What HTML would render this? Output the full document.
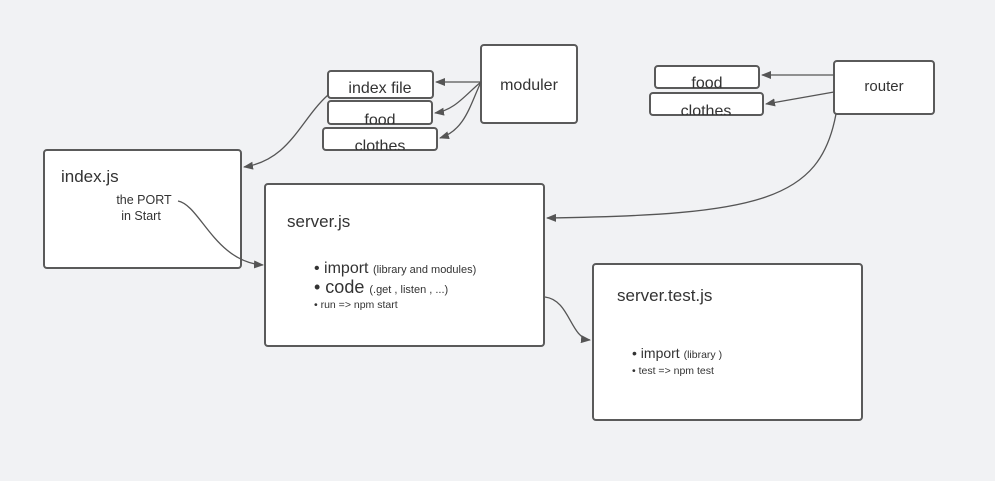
<!DOCTYPE html>
<html><head><style>
html,body{margin:0;padding:0;background:#f1f2f4;}
svg{display:block;font-family:"Liberation Sans",sans-serif;}
</style></head><body>
<svg width="995" height="481" viewBox="0 0 995 481" xmlns="http://www.w3.org/2000/svg">
<defs>
<marker id="a" markerWidth="10" markerHeight="8" refX="9" refY="4" orient="auto" markerUnits="userSpaceOnUse">
<path d="M0,0 L10,4 L0,8 z" fill="#555"/></marker>
<clipPath id="c1"><rect x="328" y="101" width="104" height="23" rx="3"/></clipPath>
<clipPath id="c2"><rect x="323" y="128" width="114" height="22" rx="3"/></clipPath>
<clipPath id="c3"><rect x="655" y="66" width="104" height="22" rx="3"/></clipPath>
<clipPath id="c4"><rect x="650" y="93" width="113" height="22" rx="3"/></clipPath>
</defs>
<rect width="995" height="481" fill="#f1f2f4"/>
<g fill="#fff" stroke="#5a5a5a" stroke-width="2">
<rect x="328" y="71" width="105" height="27" rx="3"/>
<rect x="328" y="101" width="104" height="23" rx="3"/>
<rect x="323" y="128" width="114" height="22" rx="3"/>
<rect x="481" y="45" width="96" height="78" rx="3"/>
<rect x="655" y="66" width="104" height="22" rx="3"/>
<rect x="650" y="93" width="113" height="22" rx="3"/>
<rect x="834" y="61" width="100" height="53" rx="3"/>
<rect x="44" y="150" width="197" height="118" rx="3"/>
<rect x="265" y="184" width="279" height="162" rx="3"/>
<rect x="593" y="264" width="269" height="156" rx="3"/>
</g>
<g fill="none" stroke="#555" stroke-width="1.3">
<path d="M481,82 L436,82" marker-end="url(#a)"/>
<path d="M481,82 C465,95 455,110 435,113" marker-end="url(#a)"/>
<path d="M481,82 C470,105 465,130 440,138" marker-end="url(#a)"/>
<path d="M328,95 C300,120 290,160 244,167" marker-end="url(#a)"/>
<path d="M834,75 L762,75" marker-end="url(#a)"/>
<path d="M834,92 L766,104" marker-end="url(#a)"/>
<path d="M836,114 C820,200 760,215 547,218" marker-end="url(#a)"/>
<path d="M178,201 C200,205 215,262 263,265" marker-end="url(#a)"/>
<path d="M545,297 C570,300 570,338 590,340" marker-end="url(#a)"/>
</g>
<g fill="#333">
<text x="380" y="93" font-size="16" text-anchor="middle">index file</text>
<text x="380" y="125" font-size="16" text-anchor="middle" clip-path="url(#c1)">food</text>
<text x="380" y="151" font-size="16" text-anchor="middle" clip-path="url(#c2)">clothes</text>
<text x="529" y="90" font-size="16" text-anchor="middle">moduler</text>
<text x="707" y="88" font-size="16" text-anchor="middle" clip-path="url(#c3)">food</text>
<text x="706" y="116" font-size="16" text-anchor="middle" clip-path="url(#c4)">clothes</text>
<text x="884" y="91" font-size="15" text-anchor="middle">router</text>
<text x="61" y="182" font-size="17">index.js</text>
<text x="144" y="204" font-size="12.5" text-anchor="middle">the PORT</text>
<text x="141" y="220" font-size="12.5" text-anchor="middle">in Start</text>
<text x="287" y="227" font-size="17">server.js</text>
<text x="314" y="273" font-size="16">• import <tspan font-size="11">(library and modules)</tspan></text>
<text x="314" y="293" font-size="18">• code <tspan font-size="11">(.get , listen , ...)</tspan></text>
<text x="314" y="308" font-size="10.5">•  run =&gt; npm start</text>
<text x="617" y="301" font-size="17">server.test.js</text>
<text x="632" y="358" font-size="14">• import <tspan font-size="10.5">(library )</tspan></text>
<text x="632" y="374" font-size="10.5">•  test =&gt; npm test</text>
</g>
</svg>
</body></html>
